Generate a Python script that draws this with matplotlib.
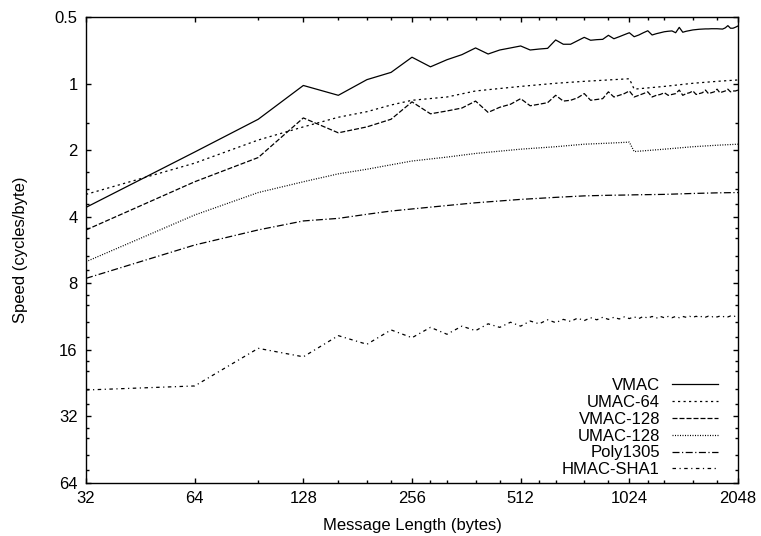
import matplotlib
matplotlib.use("Agg")
import matplotlib.pyplot as plt
from matplotlib.ticker import FixedLocator, NullFormatter

plt.rcParams['font.family'] = ['Liberation Sans', 'DejaVu Sans']
plt.rcParams['lines.scale_dashes'] = False

# ---- data (message length in bytes, speed in cycles/byte) ----
len_fine = [32, 64, 96, 128, 160, 192, 224, 256, 288, 320, 352, 384, 416, 448, 480, 512,
            544, 576, 608, 640, 672, 704, 736, 768, 800, 832, 864, 896, 928, 960, 992, 1024,
            1056, 1088, 1120, 1152, 1184, 1216, 1248, 1280, 1312, 1344, 1376, 1408, 1440, 1472, 1504, 1536,
            1568, 1600, 1632, 1664, 1696, 1728, 1760, 1792, 1824, 1856, 1888, 1920, 1952, 1984, 2016, 2048]

vmac = [3.63, 2.04, 1.45, 1.02, 1.13, 0.96, 0.89, 0.76, 0.84, 0.78, 0.74, 0.69, 0.735, 0.705, 0.69, 0.676,
        0.705, 0.698, 0.693, 0.635, 0.664, 0.664, 0.64, 0.618, 0.637, 0.633, 0.631, 0.605, 0.627, 0.614, 0.601, 0.589,
        0.614, 0.603, 0.589, 0.577, 0.603, 0.595, 0.589, 0.583, 0.58, 0.578, 0.589, 0.557, 0.586, 0.58, 0.576, 0.572,
        0.57, 0.568, 0.567, 0.566, 0.566, 0.565, 0.565, 0.565, 0.566, 0.567, 0.56, 0.547, 0.562, 0.562, 0.556, 0.549]

vmac128 = [4.59, 2.78, 2.16, 1.43, 1.67, 1.57, 1.45, 1.21, 1.37, 1.33, 1.29, 1.20, 1.35, 1.28, 1.24, 1.17,
           1.26, 1.24, 1.22, 1.13, 1.20, 1.19, 1.16, 1.11, 1.19, 1.18, 1.17, 1.09, 1.15, 1.13, 1.11, 1.08,
           1.15, 1.13, 1.11, 1.09, 1.15, 1.13, 1.12, 1.10, 1.13, 1.12, 1.11, 1.07, 1.13, 1.11, 1.10, 1.08,
           1.12, 1.11, 1.10, 1.07, 1.11, 1.10, 1.09, 1.06, 1.10, 1.09, 1.08, 1.06, 1.09, 1.08, 1.08, 1.07]

hmac_sha1 = [24.3, 23.3, 15.75, 17.2, 13.8, 15.1, 13.0, 14.1, 12.66, 13.6, 12.5, 13.1, 12.2, 12.66, 12.0, 12.5,
             11.85, 12.2, 11.7, 12.05, 11.65, 11.9, 11.5, 11.8, 11.45, 11.7, 11.4, 11.65, 11.4, 11.6, 11.35, 11.55,
             11.35, 11.55, 11.3, 11.5, 11.3, 11.5, 11.3, 11.45, 11.3, 11.45, 11.3, 11.45, 11.3, 11.4, 11.28, 11.4,
             11.28, 11.4, 11.27, 11.38, 11.27, 11.38, 11.26, 11.36, 11.26, 11.36, 11.25, 11.35, 11.25, 11.35, 11.24, 11.3]

len_coarse = [32, 64, 96, 128, 160, 192, 224, 256, 320, 384, 512, 640, 768, 896, 1024, 1056,
              1280, 1536, 1792, 2048]
umac64 = [3.17, 2.29, 1.80, 1.57, 1.42, 1.34, 1.25, 1.19, 1.15, 1.08, 1.03, 0.997, 0.977, 0.963, 0.951, 1.06,
          1.03, 0.997, 0.977, 0.963]
umac128 = [6.39, 3.93, 3.11, 2.78, 2.56, 2.44, 2.33, 2.24, 2.15, 2.07, 1.98, 1.93, 1.88, 1.86, 1.84, 2.03,
           1.98, 1.93, 1.90, 1.88]
poly1305 = [7.6, 5.37, 4.59, 4.18, 4.07, 3.9, 3.77, 3.69, 3.56, 3.46, 3.34, 3.27, 3.22, 3.2, 3.19, 3.185,
            3.17, 3.14, 3.12, 3.11]

x_major = [32, 64, 128, 256, 512, 1024, 2048]
x_minor = [96, 160, 192, 224, 288, 320, 384, 448, 576, 640, 768, 896, 1152, 1280, 1536, 1792]
y_major = [0.5, 1, 2, 4, 8, 16, 32, 64]
y_major_labels = ["0.5", "1", "2", "4", "8", "16", "32", "64"]
y_minor = [1.5, 2.5, 3, 3.5, 4.5, 5, 6, 7, 9, 10, 12, 14, 18, 20, 24, 28, 36, 40, 48, 56]

# ---- figure ----
W, H = 761, 536
fig = plt.figure(figsize=(W / 100, H / 100), dpi=100)
ax = fig.add_axes([86 / W, 1 - 483 / H, (738 - 86) / W, (483 - 17) / H])

px = 0.72  # points per pixel
lw = 0.9
ax.plot(len_fine, vmac, color='black', lw=lw, label='VMAC')
ax.plot(len_coarse, umac64, color='black', lw=lw, dashes=(2.2 * px, 3.3 * px), label='UMAC-64')
ax.plot(len_fine, vmac128, color='black', lw=lw, dashes=(5 * px, 2 * px), label='VMAC-128')
ax.plot(len_coarse, umac128, color='black', lw=lw, dashes=(1 * px, 1.5 * px), label='UMAC-128')
ax.plot(len_coarse, poly1305, color='black', lw=lw,
        dashes=(7 * px, 2.5 * px, 1.2 * px, 2.5 * px), label='Poly1305')
ax.plot(len_fine, hmac_sha1, color='black', lw=lw,
        dashes=(3.5 * px, 3.5 * px, 1.2 * px, 3.5 * px), label='HMAC-SHA1')

ax.set_xscale('log', base=2)
ax.set_yscale('log', base=2)
ax.set_xlim(32, 2048)
ax.set_ylim(64, 0.5)

ax.xaxis.set_major_locator(FixedLocator(x_major))
ax.set_xticklabels([str(v) for v in x_major])
ax.xaxis.set_minor_locator(FixedLocator(x_minor))
ax.xaxis.set_minor_formatter(NullFormatter())
ax.yaxis.set_major_locator(FixedLocator(y_major))
ax.set_yticklabels(y_major_labels)
ax.yaxis.set_minor_locator(FixedLocator(y_minor))
ax.yaxis.set_minor_formatter(NullFormatter())

ax.tick_params(which='both', direction='in', top=True, right=True, width=1.0, labelsize=12)
ax.tick_params(which='major', length=3.5)
ax.tick_params(which='minor', length=2.2)
ax.tick_params(axis='x', which='major', pad=6)
ax.tick_params(axis='y', which='major', pad=6)
for s in ax.spines.values():
    s.set_linewidth(1.0)

ax.set_xlabel('Message Length (bytes)', fontsize=12, labelpad=8.5)
ax.set_ylabel('Speed (cycles/byte)', fontsize=12, labelpad=19)

leg = ax.legend(loc='lower right', frameon=False, markerfirst=False, fontsize=12,
                handlelength=2.8, handletextpad=0.7, labelspacing=0.11,
                borderaxespad=0.0, bbox_to_anchor=(0.98, -0.002))

fig.savefig('out.png', dpi=100)
